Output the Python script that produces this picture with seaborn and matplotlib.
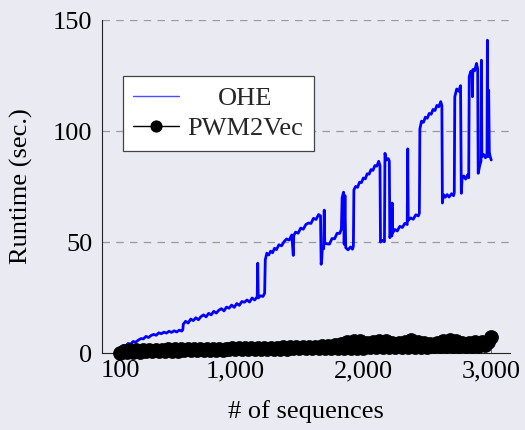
import matplotlib
matplotlib.use("Agg")
import matplotlib.pyplot as plt
import seaborn as sns

# ---- data ----
ohe_n = [100, 120, 140, 160, 180, 200, 220, 240, 260, 280, 300, 320, 340, 360, 380, 400, 420, 440, 460, 480,
         500, 520, 540, 560, 580, 588, 592, 610, 630, 650, 670, 690, 710, 730, 750, 770, 790, 810, 830, 850,
         870, 890, 910, 930, 950, 970, 990, 1010, 1030, 1050, 1070, 1090, 1110, 1130, 1150, 1170, 1174, 1178,
         1195, 1215, 1228, 1233, 1245, 1260, 1275, 1290, 1305, 1320, 1340, 1360, 1380, 1400, 1420, 1440, 1452,
         1456, 1470, 1490, 1510, 1530, 1550, 1570, 1590, 1610, 1630, 1650, 1665, 1670, 1675, 1680, 1690, 1694,
         1698, 1715, 1735, 1755, 1775, 1795, 1815, 1828, 1834, 1845, 1850, 1856, 1862, 1880, 1900, 1915, 1922,
         1926, 1940, 1955, 1970, 1985, 2000, 2015, 2030, 2045, 2060, 2075, 2090, 2105, 2120, 2130, 2134, 2150,
         2165, 2169, 2180, 2195, 2203, 2207, 2215, 2223, 2225, 2228, 2245, 2265, 2285, 2305, 2325, 2343, 2347,
         2351, 2370, 2390, 2410, 2430, 2438, 2442, 2455, 2470, 2485, 2500, 2515, 2530, 2545, 2560, 2575, 2590,
         2605, 2614, 2618, 2625, 2640, 2655, 2670, 2690, 2705, 2711, 2715, 2730, 2745, 2760, 2766, 2772, 2785,
         2800, 2815, 2824, 2828, 2840, 2850, 2853, 2856, 2870, 2885, 2894, 2898, 2910, 2920, 2923, 2927, 2940,
         2955, 2967, 2970, 2974, 2980, 2985, 2992, 3000]
ohe_t = [2.2, 3.4, 3.0, 4.3, 4.0, 5.2, 4.9, 5.8, 6.5, 6.4, 7.5, 7.0, 7.9, 8.4, 8.0, 9.1, 8.7, 9.4, 9.0, 9.8,
         9.3, 10.0, 9.5, 10.3, 9.9, 10.5, 13.0, 14.3, 13.5, 15.3, 14.6, 15.9, 15.0, 16.4, 17.2, 16.3, 17.9, 17.2, 18.8, 18.0,
         19.3, 20.0, 19.0, 20.7, 20.2, 21.6, 20.6, 22.3, 21.5, 23.2, 22.9, 23.9, 23.0, 24.8, 23.9, 25.4, 40.5, 24.8,
         25.8, 25.5, 27.0, 42.0, 45.0, 44.2, 45.9, 45.2, 47.2, 46.6, 48.8, 48.3, 50.2, 51.4, 50.9, 53.2, 44.0,
         53.0, 54.5, 54.0, 56.3, 55.8, 57.9, 58.6, 58.4, 60.7, 60.2, 62.4, 61.8, 40.0, 42.5, 48.0, 47.0, 64.4,
         49.5, 49.2, 49.1, 51.6, 51.5, 54.0, 53.9, 55.8, 70.0, 72.5, 49.0, 71.0, 47.5, 46.5, 47.8, 46.8, 48.2,
         73.5, 75.1, 74.7, 77.0, 76.8, 78.9, 78.5, 80.8, 80.6, 82.7, 82.3, 84.5, 84.2, 86.4, 84.5, 50.0, 50.8,
         50.2, 90.0, 87.0, 87.6, 86.5, 52.0, 53.5, 52.8, 67.6, 54.0, 55.7, 55.0, 57.1, 56.6, 58.5, 57.9, 92.0,
         59.8, 60.9, 60.3, 62.3, 61.8, 63.0, 101.0, 104.5, 104.0, 106.3, 105.8, 108.0, 107.6, 109.8, 109.3, 111.6, 111.0,
         113.3, 111.5, 67.6, 71.5, 70.2, 71.4, 70.3, 71.8, 70.9, 72.2, 115.5, 119.0, 118.0, 120.5, 72.0, 78.5, 79.8,
         78.4, 80.3, 79.0, 124.5, 127.0, 126.2, 115.5, 127.8, 127.2, 130.5, 128.0, 81.0, 84.5, 86.5, 132.0, 88.5, 89.5,
         88.0, 90.0, 141.0, 88.5, 118.5, 90.5, 88.5, 87.0]

pwm_n = list(range(100, 3001, 25))
pwm_t = [0.2, 1.1, 0.4, 1.2, 0.5, 1.3, 0.6, 1.3, 0.7, 1.4, 0.8, 1.5, 0.9, 1.5, 1.0, 1.6, 1.0, 1.6, 1.1, 1.7,
         1.2, 1.7, 1.2, 1.8, 1.3, 1.8, 1.4, 1.9, 1.4, 1.9, 1.5, 2.0, 1.5, 2.0, 1.6, 2.1, 1.6, 2.1, 1.7, 2.2,
         1.7, 2.2, 1.8, 2.3, 1.8, 2.3, 1.9, 2.4, 1.9, 2.4, 2.0, 2.5, 2.0, 2.5, 2.1, 2.6, 2.1, 2.6, 2.2, 2.7,
         2.2, 2.9, 2.1, 3.0, 2.1, 3.1, 2.2, 3.5, 2.2, 4.1, 2.3, 4.9, 2.3, 5.6, 2.4, 5.2, 2.4, 4.5, 2.5, 4.9,
         2.5, 5.5, 2.6, 5.3, 2.6, 4.5, 2.7, 4.3, 2.7, 5.1, 2.8, 5.7, 2.8, 5.1, 2.9, 4.7, 2.9, 4.2, 3.0, 4.6,
         3.0, 5.2, 3.1, 5.8, 3.1, 5.3, 3.2, 4.7, 3.2, 4.4, 3.3, 4.8, 3.3, 4.9, 3.4, 5.1, 7.0]

x_ticks = [100, 1000, 2000, 3000]
x_tick_labels = ["100", "1,000", "2,000", "3,000"]
y_ticks = [0, 50, 100, 150]

assert len(ohe_n) == len(ohe_t)
assert len(pwm_n) == len(pwm_t)

# ---- style ----
sns.set_theme(style="dark", rc={"axes.facecolor": "#EAEAF2", "figure.facecolor": "#EAEAF2"})
plt.rcParams["font.family"] = ["Liberation Serif", "DejaVu Serif"]
FS = 19

fig = plt.figure(figsize=(5.25, 4.3), dpi=100)
ax = fig.add_axes([0.194, 0.179, 0.777, 0.774])

sns.lineplot(x=ohe_n, y=ohe_t, ax=ax, color="#0000FF", lw=2.0, label="OHE",
             estimator=None, sort=False, zorder=2)
sns.lineplot(x=pwm_n, y=pwm_t, ax=ax, color="black", lw=1.5, marker="o", markersize=9.8,
             markeredgecolor="black", label="PWM2Vec", estimator=None, sort=False, zorder=3,
             clip_on=False)

ax.set_xlim(-45, 3145)
ax.set_ylim(0, 150)
ax.set_xticks(x_ticks)
ax.set_xticklabels(x_tick_labels)
ax.set_yticks(y_ticks)

for yv in y_ticks[1:]:
    ax.axhline(yv, color="#9a9a9a", lw=0.9, ls=(0, (6, 5)), zorder=1)

for s in ["top", "right"]:
    ax.spines[s].set_visible(False)
for s in ["left", "bottom"]:
    ax.spines[s].set_visible(True)
    ax.spines[s].set_color("#222222")
    ax.spines[s].set_linewidth(0.8)

ax.tick_params(axis="both", direction="in", length=3, width=0.6, color="#555555",
               labelsize=FS, labelcolor="black", bottom=True, left=True)
ax.tick_params(axis="x", pad=5)
ax.tick_params(axis="y", pad=7)

ax.set_xlabel("# of sequences", fontsize=FS, color="black", labelpad=13)
ax.set_ylabel("Runtime (sec.)", fontsize=FS, color="black")
ax.yaxis.set_label_coords(-0.168, 0.5)

leg = ax.legend(loc="upper left", bbox_to_anchor=(0.051, 0.832), fontsize=FS, frameon=True,
                fancybox=False, framealpha=1.0, edgecolor="#444444", facecolor="white",
                handlelength=1.75, handletextpad=0.3, borderpad=0.4, labelspacing=0.25,
                borderaxespad=0)
leg.get_frame().set_linewidth(0.9)
for h in leg.get_lines():
    h.set_linewidth(1.0)
leg.get_lines()[0].set_color("#4d4dff")
leg.get_lines()[1].set_markersize(8)

# centre the shorter legend label, as in the reference
try:
    fig.canvas.draw()
    r = fig.canvas.get_renderer()
    w0 = leg.texts[0].get_window_extent(r).width
    w1 = leg.texts[1].get_window_extent(r).width
    col = leg._legend_handle_box.get_children()[0]
    rows = col.get_children()
    rows[0].sep += (w1 - w0) / 2 * 72.0 / fig.dpi
except Exception:
    pass

fig.savefig("out.png", dpi=100)
